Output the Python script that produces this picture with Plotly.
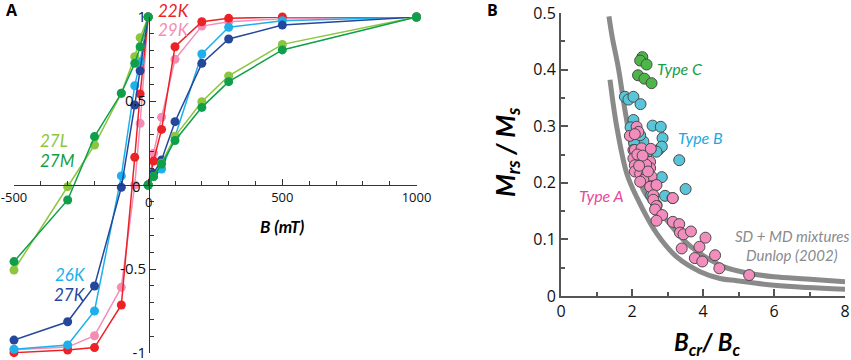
import plotly.graph_objects as go

# ---------------- Panel A data ----------------
B_left = [-500, -300, -200, -100, -50, -30, 0]
B_right = [0, 20, 50, 100, 200, 300, 500, 1000]

series_names = ["29K", "22K", "26K", "27K", "27L", "27M"]
series_colors = {"22K": "#ec2227", "29K": "#f48db4", "26K": "#1db0ea",
                 "27K": "#24479b", "27L": "#8cc63f", "27M": "#0f9f4a"}

M_left = {
    "22K": [-0.998, -0.982, -0.968, -0.714, 0.165, 0.542, 1.0],
    "29K": [-0.980, -0.965, -0.897, -0.609, 0.000, 0.367, 1.0],
    "26K": [-0.978, -0.952, -0.750, 0.054, 0.591, 0.734, 1.0],
    "27K": [-0.923, -0.814, -0.601, -0.014, 0.476, 0.680, 1.0],
    "27L": [-0.506, -0.010, 0.238, 0.546, 0.764, 0.877, 1.0],
    "27M": [-0.456, -0.089, 0.288, 0.546, 0.724, 0.823, 1.0],
}
M_right = {
    "22K": [0, 0.143, 0.331, 0.823, 0.972, 0.992, 1.000, 1.0],
    "29K": [0, 0.189, 0.403, 0.748, 0.946, 0.972, 0.990, 1.0],
    "26K": [0, 0.050, 0.095, 0.288, 0.780, 0.939, 0.978, 1.0],
    "27K": [0, 0.070, 0.149, 0.377, 0.724, 0.869, 0.952, 1.0],
    "27L": [0, 0.050, 0.130, 0.290, 0.496, 0.649, 0.837, 1.0],
    "27M": [0, 0.050, 0.125, 0.265, 0.462, 0.615, 0.804, 1.0],
}

# ---------------- Panel B data ----------------
typeC_x = [2.29, 2.23, 2.41, 2.17, 2.35, 2.55]
typeC_y = [0.422, 0.416, 0.409, 0.390, 0.384, 0.376]

typeB_x = [1.80, 1.90, 2.04, 2.24, 2.04, 1.96, 2.58, 2.81, 2.13, 2.86, 2.32, 2.06, 2.74,
           2.84, 2.69, 3.33, 2.84, 3.51, 2.54, 2.93, 3.14, 2.69, 2.23, 2.40, 2.15]
typeB_y = [0.352, 0.347, 0.352, 0.339, 0.311, 0.298, 0.301, 0.299, 0.287, 0.279, 0.273, 0.270, 0.258,
           0.264, 0.255, 0.240, 0.210, 0.189, 0.178, 0.177, 0.173, 0.161, 0.284, 0.250, 0.255]

typeA_x = [1.94, 2.13, 2.18, 2.08, 2.04, 2.08, 2.27, 2.53, 2.04, 2.23, 2.37, 2.51, 2.08, 2.32,
           2.51, 2.08, 2.23, 2.41, 2.55, 2.32, 2.55, 2.23, 2.51, 2.69, 2.60, 2.60, 2.69, 2.65,
           2.85, 2.69, 3.15, 3.33, 3.35, 3.45, 3.66, 3.40, 3.90, 4.07, 3.77, 3.98, 4.34, 4.46,
           5.30, 3.15, 2.15, 2.40, 2.30, 2.45, 2.20]
typeA_y = [0.283, 0.299, 0.290, 0.286, 0.258, 0.258, 0.261, 0.260, 0.243, 0.243, 0.240, 0.237, 0.231, 0.227,
           0.226, 0.220, 0.216, 0.214, 0.211, 0.205, 0.194, 0.202, 0.193, 0.196, 0.178, 0.170, 0.159, 0.153,
           0.143, 0.133, 0.131, 0.127, 0.112, 0.109, 0.114, 0.084, 0.087, 0.103, 0.067, 0.061, 0.072, 0.049,
           0.037, 0.173, 0.250, 0.232, 0.248, 0.220, 0.230]

dunlop_upper_x = [1.35, 1.45, 1.61, 1.80, 1.99, 2.32, 2.98, 3.45, 3.92, 4.57, 5.30, 6.00, 6.92, 8.00]
dunlop_upper_y = [0.494, 0.455, 0.405, 0.329, 0.264, 0.187, 0.134, 0.099, 0.075, 0.052, 0.040, 0.034, 0.030, 0.025]
dunlop_lower_x = [1.38, 1.57, 1.85, 2.13, 2.69, 3.26, 3.92, 4.48, 4.95, 6.00, 6.92, 8.00]
dunlop_lower_y = [0.382, 0.299, 0.217, 0.175, 0.111, 0.069, 0.043, 0.031, 0.027, 0.019, 0.015, 0.012]

W, H = 851, 360
fig = go.Figure()

# Panel A traces
for name in series_names:
    c = series_colors[name]
    for xs, ys in ((B_left, M_left[name]), (B_right, M_right[name])):
        fig.add_trace(go.Scatter(x=xs, y=ys, mode="lines+markers",
                                 line=dict(color=c, width=1.5),
                                 marker=dict(color=c, size=9),
                                 cliponaxis=False, xaxis="x", yaxis="y"))

# Panel B traces
for xs, ys in ((dunlop_upper_x, dunlop_upper_y), (dunlop_lower_x, dunlop_lower_y)):
    fig.add_trace(go.Scatter(x=xs, y=ys, mode="lines", line=dict(color="#8a8a8a", width=5, shape="spline"),
                             xaxis="x2", yaxis="y2"))
for xs, ys, col in ((typeC_x, typeC_y, "#4cb748"), (typeB_x, typeB_y, "#58c6d8"), (typeA_x, typeA_y, "#f28dbd")):
    fig.add_trace(go.Scatter(x=xs, y=ys, mode="markers",
                             marker=dict(color=col, size=11, line=dict(color="#4a4a4a", width=1)),
                             cliponaxis=False, xaxis="x2", yaxis="y2"))

axcol = "#333333"
fig.update_layout(
    width=W, height=H, margin=dict(l=0, r=0, t=0, b=0, autoexpand=False),
    plot_bgcolor="white", paper_bgcolor="white", showlegend=False,
    font=dict(family="Open Sans", color="#111111"),
    xaxis=dict(domain=[14 / W, 416.5 / W], range=[-500, 1000], anchor="free", position=(H - 185) / H,
               automargin=False, ticklabeloverflow="allow",
               showline=True, linecolor=axcol, linewidth=1, showgrid=False, zeroline=False,
               ticks="inside", ticklen=6, tickcolor=axcol, tickvals=[-500, 0, 500, 1000],
               ticktext=["-500", "", "500", "1000"],
               minor=dict(dtick=100, tick0=0, ticks="inside", ticklen=4, tickcolor=axcol),
               tickfont=dict(size=13)),
    yaxis=dict(domain=[7 / H, 343 / H], range=[-1, 1], anchor="free", position=149 / W,
               automargin=False, ticklabeloverflow="allow",
               showline=True, linecolor=axcol, linewidth=1, showgrid=False, zeroline=False,
               ticks="inside", ticklen=6, tickcolor=axcol, tickvals=[-1, -0.5, 0, 0.5, 1],
               ticktext=["-1", "-0.5", "", "0.5", "1"],
               minor=dict(dtick=0.1, tick0=0, ticks="inside", ticklen=4, tickcolor=axcol),
               tickfont=dict(size=15)),
    xaxis2=dict(domain=[561 / W, 845 / W], range=[0, 8], anchor="y2", automargin=False,
                ticklabeloverflow="allow",
                showline=True, linecolor="#555555", linewidth=2, showgrid=False, zeroline=False,
                ticks="inside", ticklen=7, tickcolor="#555555", tickwidth=1.5, tickvals=[0, 2, 4, 6, 8],
                minor=dict(dtick=1, ticks="inside", ticklen=4, tickcolor="#555555"),
                tickfont=dict(size=16)),
    yaxis2=dict(domain=[64 / H, 347 / H], range=[0, 0.5], anchor="x2", automargin=False,
                ticklabeloverflow="allow",
                showline=True, linecolor="#555555", linewidth=2, showgrid=False, zeroline=False,
                ticks="inside", ticklen=7, tickcolor="#555555", tickwidth=1.5,
                tickvals=[0, 0.1, 0.2, 0.3, 0.4, 0.5], ticktext=["0", "0.1", "0.2", "0.3", "0.4", "0.5"],
                minor=dict(dtick=0.05, ticks="inside", ticklen=4, tickcolor="#555555"),
                tickfont=dict(size=16)),
)

def ann(text, x, y, size, color, angle=0, family="Lato", xanchor="center"):
    fig.add_annotation(text=text, x=x / W, y=1 - y / H, xref="paper", yref="paper",
                       showarrow=False, font=dict(size=size, color=color, family=family),
                       textangle=angle, xanchor=xanchor, yanchor="middle", borderpad=0)

ann("<b>A</b>", 12, 10, 16, "#000000", family="Open Sans")
ann("<b>B</b>", 493, 10, 16, "#000000", family="Open Sans")
ann("<i>22K</i>", 174, 10, 17, series_colors["22K"])
ann("<i>29K</i>", 174, 29, 17, series_colors["29K"])
ann("<i>27L</i>", 54, 141, 17, series_colors["27L"])
ann("<i>27M</i>", 58, 160, 17, series_colors["27M"])
ann("<i>26K</i>", 70, 274, 17, series_colors["26K"])
ann("<i>27K</i>", 70, 294, 17, series_colors["27K"])
ann("<b><i>B (mT)</i></b>", 282, 226, 17, "#000000")
ann("<i>Type C</i>", 680, 68, 16, "#16a04a")
ann("<i>Type B</i>", 700, 137, 16, "#1ca8e0")
ann("<i>Type A</i>", 601, 196, 16, "#e8489a")
ann("<i>SD + MD mixtures</i>", 792, 236, 15, "#8a8a8a")
ann("<i>Dunlop (2002)</i>", 792, 255, 15, "#8a8a8a")
ann("<b><i>M<sub>rs</sub> / M<sub>s</sub></i></b>", 506, 152, 26, "#000000", angle=-90)
ann("<b><i>B<sub>cr</sub>/ B<sub>c</sub></i></b>", 707, 343, 24, "#000000")
# zero labels at the axes crossing
ann("0", 148.5, 202, 13, "#111111", family="Open Sans")
ann("0", 136, 186, 15, "#111111", family="Open Sans")

fig.write_html("out.html", config={"displayModeBar": False},
               post_script="document.body.style.margin='0';document.body.style.padding='0';")
